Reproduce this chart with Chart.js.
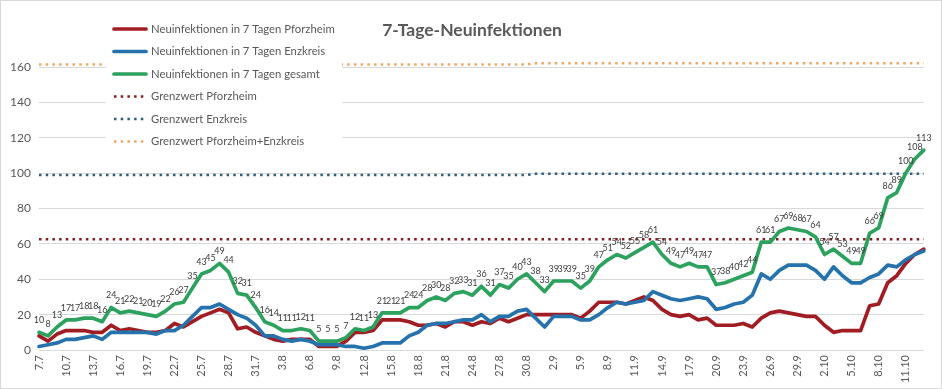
<!DOCTYPE html>
<html><head><meta charset="utf-8">
<script src="https://cdn.jsdelivr.net/npm/chart.js@4.4.0/dist/chart.umd.min.js"></script>
<style>html,body{margin:0;padding:0;background:#fff}#wrap{width:942px;height:389px;position:relative}</style>
</head><body><div id="wrap"><canvas id="c" width="942" height="389"></canvas></div>
<script>
const dates = [
 '7.7','8.7','9.7','10.7','11.7','12.7','13.7','14.7','15.7','16.7','17.7','18.7','19.7','20.7','21.7','22.7','23.7','24.7','25.7','26.7','27.7','28.7','29.7','30.7','31.7',
 '1.8','2.8','3.8','4.8','5.8','6.8','7.8','8.8','9.8','10.8','11.8','12.8','13.8','14.8','15.8','16.8','17.8','18.8','19.8','20.8','21.8','22.8','23.8','24.8','25.8','26.8','27.8','28.8','29.8','30.8','31.8',
 '1.9','2.9','3.9','4.9','5.9','6.9','7.9','8.9','9.9','10.9','11.9','12.9','13.9','14.9','15.9','16.9','17.9','18.9','19.9','20.9','21.9','22.9','23.9','24.9','25.9','26.9','27.9','28.9','29.9','30.9',
 '1.10','2.10','3.10','4.10','5.10','6.10','7.10','8.10','9.10','10.10','11.10','12.10','13.10'
];
const pforzheim = [
 8,5,9,11,11,11,10,10,14,11,
 12,11,10,10,11,15,13,16,19,21,
 23,21,12,13,10,8,6,5,6,6,
 6,2,2,2,5,10,10,11,17,17,
 17,16,14,14,15,13,16,16,14,16,
 15,18,16,18,20,20,20,20,20,20,
 18,22,27,27,27,26,28,30,28,23,
 20,19,20,17,18,14,14,14,15,13,
 18,21,22,21,20,19,19,14,10,11,
 11,11,25,26,38,42,49,54,57
];
const enzkreis = [
 2,3,4,6,6,7,8,6,10,10,
 10,10,10,9,11,11,14,19,24,24,
 26,23,20,18,14,8,8,6,5,6,
 5,3,3,3,2,2,1,2,4,4,
 4,8,10,14,15,15,16,17,17,20,
 16,19,19,22,23,18,13,19,19,19,
 17,17,20,24,27,26,27,28,33,31,
 29,28,29,30,29,23,24,26,27,31,
 43,40,45,48,48,48,45,40,47,42,
 38,38,41,43,48,47,51,54,56
];
const gesamt = [
 10,8,13,17,17,18,18,16,24,21,
 22,21,20,19,22,26,27,35,43,45,
 49,44,32,31,24,16,14,11,11,12,
 11,5,5,5,7,12,11,13,21,21,
 21,24,24,28,30,28,32,33,31,36,
 31,37,35,40,43,38,33,39,39,39,
 35,39,47,51,54,52,55,58,61,54,
 49,47,49,47,47,37,38,40,42,44,
 61,61,67,69,68,67,64,54,57,53,
 49,49,66,69,86,89,100,108,113
];
const grenzPforzheim = [
 62.6,62.6,62.6,62.6,62.6,62.6,62.6,62.6,62.6,62.6,
 62.6,62.6,62.6,62.6,62.6,62.6,62.6,62.6,62.6,62.6,
 62.6,62.6,62.6,62.6,62.6,62.6,62.6,62.6,62.6,62.6,
 62.6,62.6,62.6,62.6,62.6,62.6,62.6,62.6,62.6,62.6,
 62.6,62.6,62.6,62.6,62.6,62.6,62.6,62.6,62.6,62.6,
 62.6,62.6,62.6,62.6,62.6,62.6,62.6,62.6,62.6,62.6,
 62.6,62.6,62.6,62.6,62.6,62.6,62.6,62.6,62.6,62.6,
 62.6,62.6,62.6,62.6,62.6,62.6,62.6,62.6,62.6,62.6,
 62.6,62.6,62.6,62.6,62.6,62.6,62.6,62.6,62.6,62.6,
 62.6,62.6,62.6,62.6,62.6,62.6,62.6,62.6,62.6
];
const grenzEnzkreis = [
 98.9,98.9,98.9,98.9,98.9,98.9,98.9,98.9,98.9,98.9,
 98.9,98.9,98.9,98.9,98.9,98.9,98.9,98.9,98.9,98.9,
 98.9,98.9,98.9,98.9,98.9,98.9,98.9,98.9,98.9,98.9,
 98.9,98.9,98.9,98.9,98.9,98.9,98.9,98.9,98.9,98.9,
 98.9,98.9,98.9,98.9,98.9,98.9,98.9,98.9,98.9,98.9,
 98.9,98.9,98.9,98.9,98.9,99.6,99.6,99.6,99.6,99.6,
 99.6,99.6,99.6,99.6,99.6,99.6,99.6,99.6,99.6,99.6,
 99.6,99.6,99.6,99.6,99.6,99.6,99.6,99.6,99.6,99.6,
 99.6,99.6,99.6,99.6,99.6,99.6,99.6,99.6,99.6,99.6,
 99.6,99.6,99.6,99.6,99.6,99.6,99.6,99.6,99.6
];
const grenzGesamt = [
 161.4,161.4,161.4,161.4,161.4,161.4,161.4,161.4,161.4,161.4,
 161.4,161.4,161.4,161.4,161.4,161.4,161.4,161.4,161.4,161.4,
 161.4,161.4,161.4,161.4,161.4,161.4,161.4,161.4,161.4,161.4,
 161.4,161.4,161.4,161.4,161.4,161.4,161.4,161.4,161.4,161.4,
 161.4,161.4,161.4,161.4,161.4,161.4,161.4,161.4,161.4,161.4,
 161.4,161.4,161.4,161.4,161.4,162.1,162.1,162.1,162.1,162.1,
 162.1,162.1,162.1,162.1,162.1,162.1,162.1,162.1,162.1,162.1,
 162.1,162.1,162.1,162.1,162.1,162.1,162.1,162.1,162.1,162.1,
 162.1,162.1,162.1,162.1,162.1,162.1,162.1,162.1,162.1,162.1,
 162.1,162.1,162.1,162.1,162.1,162.1,162.1,162.1,162.1
];
const seriesNames = ['Neuinfektionen in 7 Tagen Pforzheim','Neuinfektionen in 7 Tagen Enzkreis','Neuinfektionen in 7 Tagen gesamt','Grenzwert Pforzheim','Grenzwert Enzkreis','Grenzwert Pforzheim+Enzkreis'];
const chartTitle = '7-Tage-Neuinfektionen';

const COL = {red:'#A11D24', blue:'#2672AC', green:'#2DA25E', redDot:'#7E1E22', blueDot:'#2E5F7E', orangeDot:'#EEA866'};
const FONT = 'Lato, "Open Sans", sans-serif';
const TXT = '#595959';
const DOT = [2.5, 4.2];

function solid(label, data, color, order){
  return {label, data, borderColor:color, backgroundColor:color, borderWidth:3.7, pointRadius:0, tension:0,
    borderJoinStyle:'round', borderCapStyle:'round', order, clip:false};
}
function dotted(label, data, color, order){
  return {label, data, borderColor:color, backgroundColor:color, borderWidth:2.5, pointRadius:0, tension:0,
    borderDash:DOT, borderCapStyle:'butt', order, clip:false};
}

const frame = {
  id:'frame',
  beforeDraw(chart){
    const c=chart.ctx; c.save(); c.fillStyle='#fff'; c.fillRect(0,0,chart.width,chart.height);
    c.strokeStyle='#D9D9D9'; c.lineWidth=1; c.strokeRect(0.5,0.5,chart.width-1,chart.height-1); c.restore();
  },
  afterDraw(chart){
    const c=chart.ctx; c.save(); c.font='bold 17.5px '+FONT; c.fillStyle=TXT; c.textAlign='center'; c.textBaseline='middle';
    c.fillText(chartTitle, 472, 30); c.restore();
  }
};
const valueLabels = {
  id:'valueLabels',
  afterDatasetsDraw(chart){
    const c=chart.ctx; const meta=chart.getDatasetMeta(2);
    c.save(); c.font='9px '+FONT; c.fillStyle='#404040'; c.textAlign='center'; c.textBaseline='middle';
    meta.data.forEach((pt,i)=>{ c.fillText(String(gesamt[i]), pt.x, pt.y-12); });
    c.restore();
  }
};
const legendBox = {
  id:'legendBox',
  afterDatasetsDraw(chart){
    const c=chart.ctx; c.save();
    c.fillStyle='#fff'; c.fillRect(106,14,236,140);
    const rows=[29,51.5,74,96.5,119,141.5];
    chart.data.datasets.forEach((ds,i)=>{
      const y=rows[i];
      c.beginPath(); c.strokeStyle=ds.borderColor;
      if(ds.borderDash){ c.setLineDash(ds.borderDash); c.lineWidth=2.5; c.lineCap='butt'; }
      else { c.setLineDash([]); c.lineWidth=3.7; c.lineCap='round'; }
      c.moveTo(114,y); c.lineTo(146,y); c.stroke();
      c.setLineDash([]);
      c.font='11.3px '+FONT; c.fillStyle=TXT; c.textAlign='left'; c.textBaseline='middle';
      c.fillText(ds.label, 151, y);
    });
    c.restore();
  }
};

new Chart(document.getElementById('c'), {
  type:'line',
  data:{labels:dates, datasets:[
    solid(seriesNames[0], pforzheim, COL.red, 2),
    solid(seriesNames[1], enzkreis, COL.blue, 1),
    solid(seriesNames[2], gesamt, COL.green, 0),
    dotted(seriesNames[3], grenzPforzheim, COL.redDot, 3),
    dotted(seriesNames[4], grenzEnzkreis, COL.blueDot, 4),
    dotted(seriesNames[5], grenzGesamt, COL.orangeDot, 5)
  ]},
  options:{
    responsive:false, animation:false, devicePixelRatio:1,
    layout:{padding:{left:0, top:67, right:9, bottom:0}},
    plugins:{legend:{display:false}, title:{display:false}, tooltip:{enabled:false}},
    scales:{
      x:{
        offset:false,
        grid:{display:false, drawTicks:false},
        border:{display:true, color:'#D9D9D9'},
        ticks:{autoSkip:false, minRotation:90, maxRotation:90, padding:5, color:TXT, font:{family:FONT, size:11},
          callback:(v,i)=> (i%3===0 ? dates[i] : '')},
        afterFit:(s)=>{ s.height=39; }
      },
      y:{
        min:0, max:160,
        grid:{color:'#D9D9D9', lineWidth:1, drawTicks:false},
        border:{display:false},
        ticks:{stepSize:20, padding:8, color:TXT, font:{family:FONT, size:12}},
        afterFit:(s)=>{ s.width=39; }
      }
    }
  },
  plugins:[frame, valueLabels, legendBox]
});
</script></body></html>
